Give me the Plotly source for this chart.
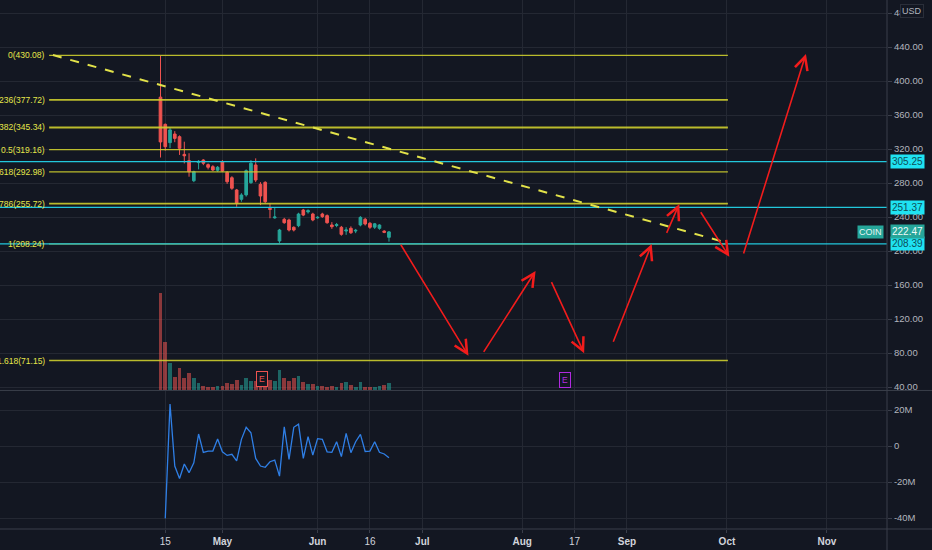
import plotly.graph_objects as go

# ---------------- data ----------------
# bar index: 0 = 14 Apr 2021 (trading days)
bar_index = list(range(49))
opens  = [381, 349, 327.5, 337.6, 334.5, 313.7, 306.3, 282.7, 304, 307, 301.6, 299.2, 295, 304.7, 292.5, 286.2,
          271.8, 260.8, 266, 280.4, 301.2, 278.4, 280.8, 250.2, 239, 211.8, 237.3, 236.5, 227.9, 229.8, 248.2, 246,
          243.5, 239, 243.5, 241.6, 230.6, 230, 227.9, 223.5, 226.7, 223.5, 230.6, 237.3, 232.6, 228, 226.7, 223.4, 216.1]
highs  = [429.5, 350, 345, 341, 336, 328.6, 315, 294.5, 307, 308, 303, 301, 300, 307, 294, 288,
          273, 268, 296, 307, 309, 281, 282, 256, 251, 226, 239, 238, 229, 245, 249.5, 249,
          245, 241, 245, 243, 234, 233, 229.5, 228, 229, 226, 241, 239, 234, 233, 231.5, 224.5, 223.5]
lows   = [310, 318, 321, 328, 313, 303, 287.4, 281, 296, 301, 296, 294, 293, 293, 279, 272,
          252, 258, 264, 279, 281, 254, 256, 238.5, 238, 209.5, 232, 223, 223, 228, 241, 244,
          235, 238, 239, 232, 226, 228, 218, 219, 220, 221, 229, 230, 226, 226, 225, 221, 211]
closes = [328.3, 322.7, 342.5, 332.5, 320.8, 312, 293.3, 293.3, 305.5, 303.2, 298.5, 295.3, 298.5, 294.1, 281.5, 273.8,
          256.1, 265.9, 294.5, 303.2, 283.5, 264.7, 258, 249, 240, 224.7, 233.3, 224.7, 224.7, 243.5, 242.3, 247.5,
          236.5, 239.6, 240.4, 233.3, 228.6, 231, 219.6, 224.7, 221.5, 224.3, 239.6, 231.8, 227.9, 232, 230.6, 222, 222.47]
volume_m = [81, 39.8, 22.2, 11.1, 18.1, 10, 14.5, 9.7, 6.1, 3.6, 2.8, 2.8, 3.6, 3.6, 5.8, 4.7,
            8.3, 4.4, 10.3, 7.2, 7.8, 10.6, 8.9, 8.3, 7.8, 16.7, 10.3, 7.2, 10, 11.7, 6.7, 5,
            5.3, 3.6, 3.1, 2.8, 3.6, 2.5, 5.6, 6.7, 3.9, 2.2, 6.4, 2.8, 2.8, 2.2, 3.3, 4.4, 6.1]
# lower pane indicator (millions), bars 1..48
osc_values = [-40.2, 23.3, -11.1, -18, -10, -14.8, -9.3, 6.7, -3.5, -2.8, -2.8, 3.9, -3.2, -5.2, -4.6, -8.2,
              3.7, 10.4, 7.4, -6.9, -11.1, -11.8, -8.7, -7.8, -16.7, 10.7, -7.4, 10.4, 12.2, -6.9, 5.2, -5,
              4.1, 3.7, -3.2, -3.5, 2.4, -5.9, 7, -3.7, 2.4, 6.5, -3, -2.8, 2.4, -3.5, -4.4, -6.5]

fib_ratios = ["0", "0.236", "0.382", "0.5", "0.618", "0.786", "1", "1.618"]
fib_prices = [430.08, 377.72, 345.34, 319.16, 292.98, 255.72, 208.24, 71.15]
fib_widths = [1.3, 1.8, 2.0, 1.2, 1.2, 1.8, 1.2, 1.6]
fib_start, fib_end = -23.4, 119.2

hlines = [305.25, 251.37, 208.39]
last_price = 222.47

trend_pts = [(-22.6, 430.5), (119.2, 209.4)]
# arrows: (tail_idx, tail_price, head_idx, head_price)
arrows = [(50.3, 209.1, 64.7, 76.8), (67.7, 79.6, 78.8, 176.5), (82.0, 165.1, 89.0, 79.6),
          (95.0, 91.4, 103.2, 208.2), (106.2, 219.6, 109.0, 255.3), (113.3, 247.4, 119.5, 193.3),
          (122.4, 195.3, 135.6, 431.8)]
earnings = [(21.3, 49.5, "#ef5350"), (85.0, 48.5, "#b02ae0")]

x_tickvals = [1, 13, 33, 44, 55, 76, 87, 98, 119, 140]
x_ticktext = ["15", "<b>May</b>", "<b>Jun</b>", "16", "<b>Jul</b>", "<b>Aug</b>", "17", "<b>Sep</b>", "<b>Oct</b>", "<b>Nov</b>"]
price_ticks = [40, 80, 120, 160, 200, 240, 280, 320, 360, 400, 440, 480]
osc_ticks = [-40, -20, 0, 20]
osc_ticktext = ["-40M", "-20M", "0", "20M"]

# ---------------- styling ----------------
BG = "#131722"
GRID = "#242833"
AXIS = "#3a3e4a"
TXT = "#b2b5be"
UP = "#26a69a"
DN = "#ef5350"
FIB = "rgba(205,205,45,0.9)"
FIBTXT = "#e6e64a"
CYAN = "#22c7dc"
RED = "#f21c1c"
FONT = "Liberation Sans"

fig = go.Figure()

vol_colors = ["rgba(38,166,154,0.55)" if c >= o else "rgba(239,83,80,0.55)" for o, c in zip(opens, closes)]
fig.add_trace(go.Bar(x=bar_index, y=volume_m, marker=dict(color=vol_colors, line=dict(width=0)),
                     width=0.78, xaxis="x", yaxis="y3", hoverinfo="skip", showlegend=False))

fig.add_trace(go.Candlestick(x=bar_index, open=opens, high=highs, low=lows, close=closes,
                             increasing=dict(line=dict(color=UP, width=1), fillcolor=UP),
                             decreasing=dict(line=dict(color=DN, width=1), fillcolor=DN),
                             whiskerwidth=0, xaxis="x", yaxis="y", showlegend=False))

fig.add_trace(go.Scatter(x=bar_index[1:], y=osc_values, mode="lines",
                         line=dict(color="#2f7fe6", width=1.3), xaxis="x2", yaxis="y2", showlegend=False))

shapes = []
annotations = []

for r, p, w in zip(fib_ratios, fib_prices, fib_widths):
    shapes.append(dict(type="line", xref="x", yref="y", x0=fib_start, x1=fib_end, y0=p, y1=p,
                       line=dict(color=FIB, width=w)))
    annotations.append(dict(xref="x", yref="y", x=-23.9, y=p, xanchor="right", yanchor="middle",
                            text=f"{r}({p:.2f})", showarrow=False,
                            font=dict(family=FONT, size=8.5, color=FIBTXT)))

for p in hlines:
    shapes.append(dict(type="line", xref="paper", yref="y", x0=0, x1=1, y0=p, y1=p,
                       line=dict(color=CYAN, width=1.2)))
    annotations.append(dict(xref="paper", yref="y", x=1.003, y=p, xanchor="left", yanchor="middle",
                            text=f"{p:.2f}", showarrow=False, bgcolor="#1fe3f2", borderpad=1,
                            font=dict(family=FONT, size=10, color="#0d4f57")))

(tx0, ty0), (tx1, ty1) = trend_pts
shapes.append(dict(type="line", xref="x", yref="y", x0=tx0, y0=ty0, x1=tx1, y1=ty1,
                   line=dict(color="#e2e24a", width=2, dash="dash")))

# pane separator, bottom axis line, right axis line
shapes.append(dict(type="line", xref="paper", yref="paper", x0=0, x1=1.06, y0=0.2619, y1=0.2619,
                   line=dict(color=AXIS, width=1)))
shapes.append(dict(type="line", xref="paper", yref="paper", x0=0, x1=1.06, y0=0, y1=0,
                   line=dict(color=AXIS, width=1)))
shapes.append(dict(type="line", xref="paper", yref="paper", x0=1, x1=1, y0=-0.05, y1=1,
                   line=dict(color=AXIS, width=1)))

for (ax0, ay0, hx, hy) in arrows:
    annotations.append(dict(xref="x", yref="y", axref="x", ayref="y", x=hx, y=hy, ax=ax0, ay=ay0,
                            text="", showarrow=True, arrowhead=5, arrowsize=1.6, arrowwidth=1.6,
                            arrowcolor=RED, standoff=0))

for (ex, ey, col) in earnings:
    annotations.append(dict(xref="x", yref="y", x=ex, y=ey, text="E", showarrow=False,
                            bgcolor=BG, bordercolor=col, borderwidth=1, borderpad=2,
                            font=dict(family=FONT, size=8.5, color=col)))

annotations.append(dict(xref="paper", yref="y", x=0.997, y=last_price, xanchor="right", yanchor="middle",
                        text="COIN", showarrow=False, bgcolor=UP, borderpad=1,
                        font=dict(family=FONT, size=9, color="#e8f5f3")))
annotations.append(dict(xref="paper", yref="y", x=1.003, y=last_price, xanchor="left", yanchor="middle",
                        text=f"{last_price:.2f}", showarrow=False, bgcolor=UP, borderpad=1,
                        font=dict(family=FONT, size=10, color="#eefaf8")))
annotations.append(dict(xref="paper", yref="paper", x=1.0283, y=0.979, xanchor="center", yanchor="middle",
                        text="USD", showarrow=False, bgcolor=BG, bordercolor="#2a2e39", borderwidth=1,
                        borderpad=1, font=dict(family=FONT, size=9, color=TXT)))

xr = [-33.72, 152.63]
fig.update_layout(
    width=932, height=550,
    margin=dict(l=0, r=45, t=0, b=21),
    paper_bgcolor=BG, plot_bgcolor=BG,
    showlegend=False, bargap=0, boxgap=0.2,
    font=dict(family=FONT, size=10, color=TXT),
    xaxis=dict(domain=[0, 1], anchor="y", range=xr, tickvals=x_tickvals, showticklabels=False,
               showgrid=True, gridcolor=GRID, gridwidth=1, zeroline=False, rangeslider=dict(visible=False),
               showline=False, fixedrange=True),
    xaxis2=dict(domain=[0, 1], anchor="y2", range=xr, matches="x", tickvals=x_tickvals, ticktext=x_ticktext,
                showgrid=True, gridcolor=GRID, zeroline=False, ticks="outside", ticklen=3, tickcolor=AXIS,
                tickfont=dict(family=FONT, size=10, color="#d1d4dc"), showline=False),
    yaxis=dict(domain=[0.2628, 1], range=[36.5, 495.3], side="right", tickvals=price_ticks,
               ticktext=[f"{v:.2f}" for v in price_ticks], showgrid=True, gridcolor=GRID, zeroline=False,
               ticks="outside", ticklen=4, tickcolor=AXIS, tickfont=dict(family=FONT, size=9.5, color=TXT)),
    yaxis3=dict(domain=[0.2628, 1], overlaying="y", range=[0, 325.7], visible=False),
    yaxis2=dict(domain=[0, 0.2609], range=[-46.1, 30.6], side="right", tickvals=osc_ticks,
                ticktext=osc_ticktext, showgrid=True, gridcolor=GRID, zeroline=False,
                ticks="outside", ticklen=4, tickcolor=AXIS, tickfont=dict(family=FONT, size=9.5, color=TXT)),
    shapes=shapes,
    annotations=annotations,
)

fig.write_html("out.html", config={"displayModeBar": False},
               post_script="document.body.style.margin='0px';document.body.style.overflow='hidden';")
